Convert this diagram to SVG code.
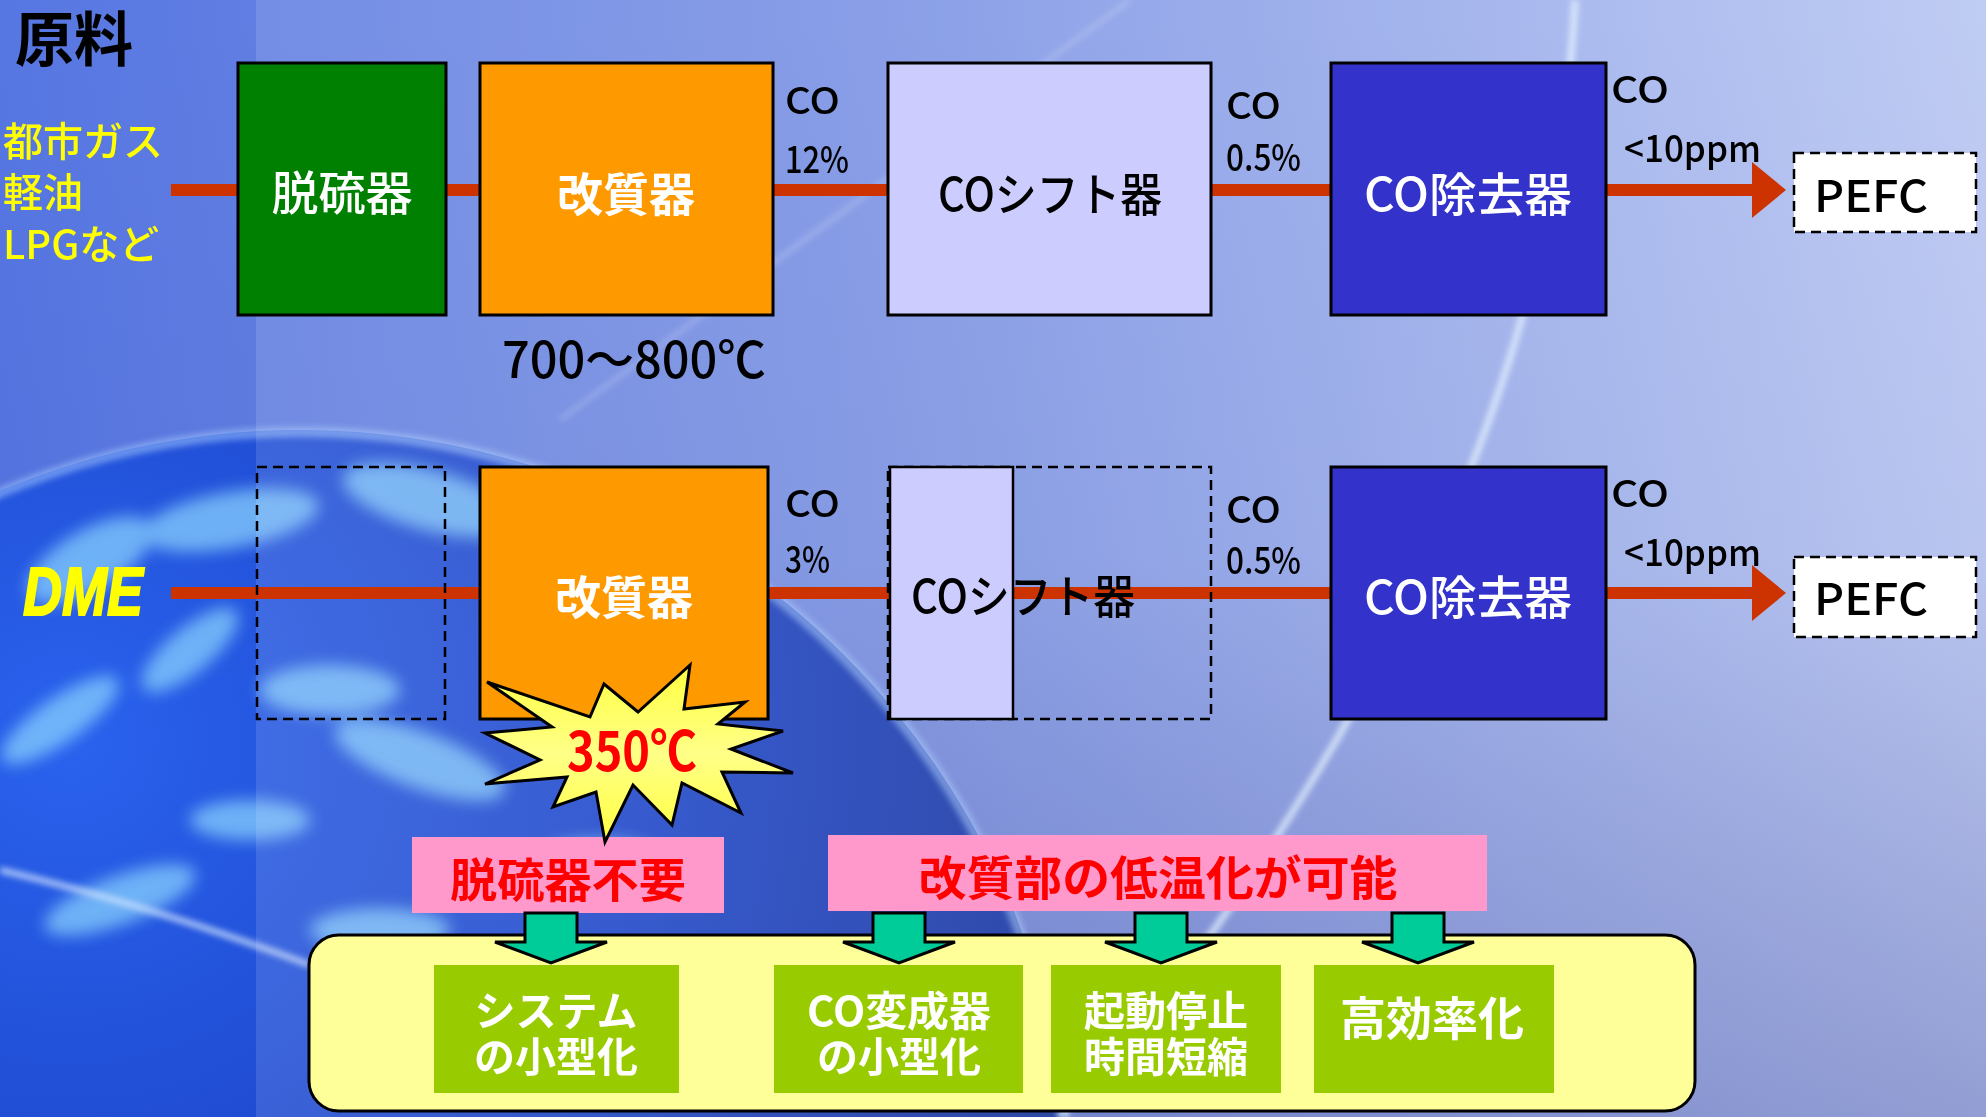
<svg xmlns="http://www.w3.org/2000/svg" width="1986" height="1117" viewBox="0 0 1986 1117">
<style>
text { font-family: "Noto Sans CJK JP", "Noto Sans", sans-serif; }
.box { stroke: #000; stroke-width: 3; }
.dash { fill: none; stroke: #000; stroke-width: 2.5; stroke-dasharray: 10 6; }
.wt { fill: #fff; font-size: 46px; font-weight: 700; text-anchor: middle; }
.bt { fill: #000; font-size: 46px; font-weight: 500; text-anchor: middle; }
.co { fill: #000; font-size: 37px; font-weight: 500; }
.pefc { fill: #000; font-size: 44px; font-weight: 500; }
.src { fill: #ffff00; font-size: 40px; font-weight: 500; }
.pipe { stroke: #cc3300; stroke-width: 12; fill: none; }
.garrow { fill: #00cc99; stroke: #000; stroke-width: 3; stroke-linejoin: miter; }
.gbox { fill: #99cc00; }
.gt { fill: #fff; font-size: 41px; font-weight: 700; text-anchor: middle; }
.pink { fill: #ff99cc; }
.rt { fill: #ff0000; font-size: 47px; font-weight: 700; text-anchor: middle; }
</style>
<defs>
  <linearGradient id="bg" x1="0" y1="0" x2="1" y2="0">
    <stop offset="0" stop-color="#5676e2"/>
    <stop offset="0.45" stop-color="#7a92e4"/>
    <stop offset="1" stop-color="#b7c5f2"/>
  </linearGradient>
  <linearGradient id="shade" x1="0" y1="0" x2="0" y2="1">
    <stop offset="0" stop-color="#26308a" stop-opacity="0"/>
    <stop offset="0.5" stop-color="#26308a" stop-opacity="0.05"/>
    <stop offset="1" stop-color="#26308a" stop-opacity="0.35"/>
  </linearGradient>
  <radialGradient id="globe" cx="0.35" cy="0.2" r="0.75">
    <stop offset="0" stop-color="#2a62ee"/>
    <stop offset="0.5" stop-color="#1c44c8"/>
    <stop offset="1" stop-color="#102a8e"/>
  </radialGradient>
  <linearGradient id="star" x1="0" y1="0" x2="0" y2="1">
    <stop offset="0" stop-color="#ffff40"/>
    <stop offset="0.5" stop-color="#ffff88"/>
    <stop offset="1" stop-color="#ffff40"/>
  </linearGradient>
  <filter id="blur8" x="-50%" y="-50%" width="200%" height="200%"><feGaussianBlur stdDeviation="8"/></filter>
  <filter id="blur3" x="-50%" y="-50%" width="200%" height="200%"><feGaussianBlur stdDeviation="3"/></filter>
  <clipPath id="globeclip"><circle cx="300" cy="1200" r="770"/></clipPath>
  <marker id="redhead" markerUnits="userSpaceOnUse" markerWidth="36" markerHeight="58" refX="0" refY="29" orient="auto" viewBox="0 0 36 58">
    <path d="M0,1 L34,29 L0,57 z" fill="#cc3300"/>
  </marker>
</defs>

<g id="background">
  <rect x="0" y="0" width="1986" height="1117" fill="url(#bg)"/>
  <rect x="0" y="0" width="1986" height="1117" fill="url(#shade)"/>
  <path d="M1130,0 L560,420" stroke="#ffffff" stroke-opacity="0.25" stroke-width="4" fill="none" filter="url(#blur3)"/>
  <circle cx="300" cy="1200" r="770" fill="url(#globe)"/>
  <g clip-path="url(#globeclip)" filter="url(#blur8)" fill="#8fd8ff" opacity="0.7">
    <ellipse cx="90" cy="560" rx="70" ry="30" transform="rotate(-30 90 560)"/>
    <ellipse cx="230" cy="520" rx="90" ry="28" transform="rotate(-10 230 520)"/>
    <ellipse cx="430" cy="500" rx="90" ry="30" transform="rotate(15 430 500)"/>
    <ellipse cx="190" cy="650" rx="60" ry="22" transform="rotate(-40 190 650)"/>
    <ellipse cx="60" cy="720" rx="70" ry="22" transform="rotate(-35 60 720)"/>
    <ellipse cx="330" cy="690" rx="70" ry="25"/>
    <ellipse cx="420" cy="760" rx="90" ry="28" transform="rotate(20 420 760)"/>
    <ellipse cx="560" cy="610" rx="60" ry="22" transform="rotate(25 560 610)"/>
    <ellipse cx="250" cy="820" rx="60" ry="20"/>
    <ellipse cx="120" cy="900" rx="80" ry="24" transform="rotate(-20 120 900)"/>
    <ellipse cx="380" cy="930" rx="70" ry="22"/>
    <ellipse cx="600" cy="860" rx="60" ry="20"/>
  </g>
  <circle cx="300" cy="1200" r="768" fill="none" stroke="#a8ccff" stroke-width="10" stroke-opacity="0.55" filter="url(#blur3)"/>
  <path d="M0,870 Q150,905 310,965" stroke="#cfe4ff" stroke-width="6" fill="none" stroke-opacity="0.8" filter="url(#blur3)"/>
  <rect x="256" y="0" width="1730" height="1117" fill="#ffffff" fill-opacity="0.12"/>
  <path d="M1575,0 C1560,300 1450,560 1300,800 S1100,1060 1060,1117" stroke="#e8f6ff" stroke-width="6" fill="none" stroke-opacity="0.85" filter="url(#blur3)"/>
</g>

<g id="connectors">
  <line class="pipe" x1="171" y1="190" x2="238" y2="190"/>
  <line class="pipe" x1="446" y1="190" x2="480" y2="190"/>
  <line class="pipe" x1="773" y1="190" x2="888" y2="190"/>
  <line class="pipe" x1="1211" y1="190" x2="1331" y2="190"/>
  <line class="pipe" x1="1606" y1="190" x2="1752" y2="190" marker-end="url(#redhead)"/>
  <line class="pipe" x1="171" y1="593" x2="480" y2="593"/>
  <line class="pipe" x1="768" y1="593" x2="1331" y2="593"/>
  <line class="pipe" x1="1606" y1="593" x2="1752" y2="593" marker-end="url(#redhead)"/>
</g>

<g id="source-label">
  <text x="15" y="61" style="font-size:59px;font-weight:700;fill:#000">原料</text>
  <text class="src" x="3" y="156">都市ガス</text>
  <text class="src" x="3" y="207">軽油</text>
  <text class="src" x="3" y="259">LPGなど</text>
</g>

<g id="desulfurizer">
  <rect class="box" x="238" y="63" width="208" height="252" fill="#008000"/>
  <text class="wt" x="342" y="210" style="font-size:47px;font-weight:500">脱硫器</text>
</g>
<g id="reformer1">
  <rect class="box" x="480" y="63" width="293" height="252" fill="#ff9900"/>
  <text class="wt" x="626" y="211">改質器</text>
  <text x="634" y="378" style="font-size:50px;font-weight:500;text-anchor:middle" textLength="264" lengthAdjust="spacingAndGlyphs">700〜800℃</text>
</g>
<g id="co-label-1">
  <text class="co" x="785" y="114" textLength="55" lengthAdjust="spacingAndGlyphs">CO</text>
  <text class="co" x="785" y="173" textLength="64" lengthAdjust="spacingAndGlyphs">12%</text>
</g>
<g id="shift1">
  <rect class="box" x="888" y="63" width="323" height="252" fill="#ccccff"/>
  <text class="bt" x="1050" y="211" textLength="224" lengthAdjust="spacingAndGlyphs">COシフト器</text>
</g>
<g id="co-label-2">
  <text class="co" x="1226" y="119" textLength="55" lengthAdjust="spacingAndGlyphs">CO</text>
  <text class="co" x="1226" y="171" textLength="75" lengthAdjust="spacingAndGlyphs">0.5%</text>
</g>
<g id="coremover1">
  <rect class="box" x="1331" y="63" width="275" height="252" fill="#3333cc"/>
  <text class="wt" x="1468" y="211" textLength="208" lengthAdjust="spacingAndGlyphs" style="font-weight:500">CO除去器</text>
</g>
<g id="co-label-3">
  <text class="co" x="1611" y="103" textLength="58" lengthAdjust="spacingAndGlyphs">CO</text>
  <text class="co" x="1624" y="162" textLength="137" lengthAdjust="spacingAndGlyphs">&lt;10ppm</text>
</g>
<g id="pefc1">
  <rect class="dash" x="1794" y="153" width="182" height="79" style="fill:#fff"/>
  <text class="pefc" x="1814" y="212" textLength="114" lengthAdjust="spacingAndGlyphs">PEFC</text>
</g>

<g id="dme-label">
  <text x="23" y="615" style="font-family:'Liberation Sans',Arial,sans-serif;font-size:68px;font-weight:700;font-style:italic;fill:#ffff00;stroke:#ffff00;stroke-width:2" textLength="120" lengthAdjust="spacingAndGlyphs">DME</text>
</g>
<g id="desulfurizer-omitted">
  <rect class="dash" x="257" y="467" width="188" height="252"/>
</g>
<g id="reformer2">
  <rect class="box" x="480" y="467" width="288" height="252" fill="#ff9900"/>
  <text class="wt" x="624" y="614">改質器</text>
</g>
<g id="co-label-4">
  <text class="co" x="785" y="517" textLength="55" lengthAdjust="spacingAndGlyphs">CO</text>
  <text class="co" x="785" y="573" textLength="45" lengthAdjust="spacingAndGlyphs">3%</text>
</g>
<g id="shift2">
  <rect class="dash" x="888" y="467" width="323" height="252"/>
  <rect class="box" x="890" y="467" width="123" height="252" fill="#ccccff" style="stroke-width:2.5"/>
  <text class="bt" x="1023" y="613" textLength="224" lengthAdjust="spacingAndGlyphs">COシフト器</text>
</g>
<g id="co-label-5">
  <text class="co" x="1226" y="523" textLength="55" lengthAdjust="spacingAndGlyphs">CO</text>
  <text class="co" x="1226" y="574" textLength="75" lengthAdjust="spacingAndGlyphs">0.5%</text>
</g>
<g id="coremover2">
  <rect class="box" x="1331" y="467" width="275" height="252" fill="#3333cc"/>
  <text class="wt" x="1468" y="614" textLength="208" lengthAdjust="spacingAndGlyphs" style="font-weight:500">CO除去器</text>
</g>
<g id="co-label-6">
  <text class="co" x="1611" y="507" textLength="58" lengthAdjust="spacingAndGlyphs">CO</text>
  <text class="co" x="1624" y="566" textLength="137" lengthAdjust="spacingAndGlyphs">&lt;10ppm</text>
</g>
<g id="pefc2">
  <rect class="dash" x="1794" y="557" width="182" height="80" style="fill:#fff"/>
  <text class="pefc" x="1814" y="615" textLength="114" lengthAdjust="spacingAndGlyphs">PEFC</text>
</g>

<g id="benefit-panel">
  <rect x="309" y="935" width="1386" height="176" rx="30" ry="30" fill="#ffff99" stroke="#000" stroke-width="3"/>
</g>

<g id="no-desulfurizer">
  <rect class="pink" x="412" y="837" width="312" height="76"/>
  <text class="rt" x="568" y="897" textLength="236" lengthAdjust="spacingAndGlyphs">脱硫器不要</text>
</g>
<g id="low-temp">
  <rect class="pink" x="828" y="835" width="659" height="76"/>
  <text class="rt" x="1158" y="895" textLength="479" lengthAdjust="spacingAndGlyphs">改質部の低温化が可能</text>
</g>

<g id="temp-burst">
  <polygon points="487,682 590,717 604,684 638,712 690,665 684,709 745,702 718,724 783,731 731,749 793,773 722,772 741,813 682,783 672,825 633,785 605,842 596,792 553,807 567,777 485,784 540,760 485,733 552,727" fill="url(#star)" stroke="#000" stroke-width="3" stroke-linejoin="miter"/>
  <text x="632" y="771" style="font-size:54px;font-weight:700;fill:#ff0000;text-anchor:middle" textLength="130" lengthAdjust="spacingAndGlyphs">350℃</text>
</g>

<g id="block-arrows">
  <polygon class="garrow" points="525,913 577,913 577,942 607,942 551,963 495,942 525,942"/>
  <polygon class="garrow" points="873,913 925,913 925,942 955,942 899,963 843,942 873,942"/>
  <polygon class="garrow" points="1135,913 1187,913 1187,942 1217,942 1161,963 1105,942 1135,942"/>
  <polygon class="garrow" points="1392,913 1444,913 1444,942 1474,942 1418,963 1362,942 1392,942"/>
</g>

<g id="small-system">
  <rect class="gbox" x="434" y="965" width="245" height="128"/>
  <text class="gt" x="556" y="1026">システム</text>
  <text class="gt" x="556" y="1072">の小型化</text>
</g>
<g id="small-shift">
  <rect class="gbox" x="774" y="965" width="249" height="128"/>
  <text class="gt" x="899" y="1026" textLength="184" lengthAdjust="spacingAndGlyphs">CO変成器</text>
  <text class="gt" x="899" y="1072">の小型化</text>
</g>
<g id="fast-start">
  <rect class="gbox" x="1051" y="965" width="230" height="128"/>
  <text class="gt" x="1166" y="1026">起動停止</text>
  <text class="gt" x="1166" y="1072">時間短縮</text>
</g>
<g id="high-efficiency">
  <rect class="gbox" x="1314" y="965" width="240" height="128"/>
  <text class="gt" x="1432" y="1035" style="font-size:46px">高効率化</text>
</g>
</svg>
